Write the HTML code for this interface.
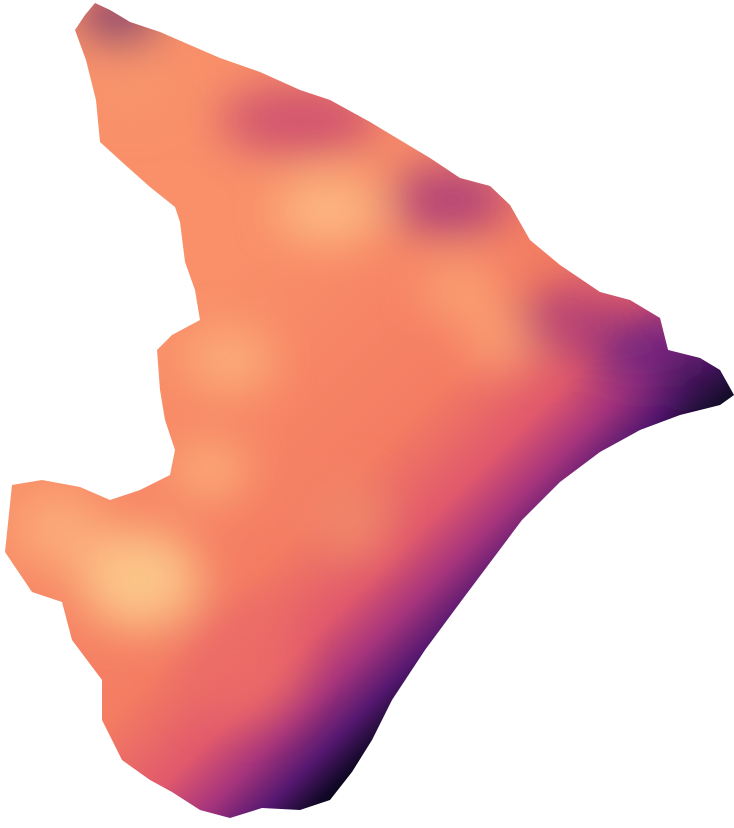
<!DOCTYPE html>
<html><head><meta charset="utf-8"><style>
html,body{margin:0;padding:0;background:#fff;width:734px;height:828px;overflow:hidden}
</style></head><body>
<svg width="734" height="828" viewBox="0 0 734 828">
<defs>
<clipPath id="region">
<polygon points="95,3 110,10 130,22 160,32 190,45 220,58 260,72 300,90 330,100 370,122 400,140 430,158 460,178 490,186 510,205 530,240 560,265 600,292 630,300 660,318 668,350 700,358 720,370 734,395 720,405 680,415 640,430 600,452 560,482 522,520 492,560 462,600 425,650 392,700 372,740 352,772 330,800 300,810 262,808 230,818 200,810 172,792 150,780 122,760 102,720 102,680 72,640 62,602 32,592 5,552 12,485 42,480 80,487 110,500 140,490 170,475 175,450 165,420 160,390 157,350 172,335 200,320 195,290 185,262 180,222 175,207 150,187 122,162 100,142 96,100 86,60 75,30 85,15"/>
</clipPath>
<linearGradient id="coast" gradientUnits="userSpaceOnUse" x1="250" y1="250" x2="580" y2="580">
<stop offset="0" stop-color="#f9906a"/>
<stop offset="0.5" stop-color="#f47c62"/>
<stop offset="0.68" stop-color="#e0596c"/>
<stop offset="0.78" stop-color="#a8357c"/>
<stop offset="0.87" stop-color="#551870"/>
<stop offset="0.94" stop-color="#120828"/>
<stop offset="1" stop-color="#000004"/>
</linearGradient>
<filter id="blur"><feGaussianBlur stdDeviation="22"/></filter>
</defs>
<g clip-path="url(#region)">
<rect width="734" height="828" fill="url(#coast)"/>
<g filter="url(#blur)" opacity="0.85">
<ellipse cx="140" cy="580" rx="60" ry="50" fill="#fdd08e"/>
<ellipse cx="60" cy="530" rx="45" ry="40" fill="#fcb07c"/>
<ellipse cx="330" cy="210" rx="55" ry="35" fill="#fdbd84"/>
<ellipse cx="230" cy="360" rx="45" ry="35" fill="#fcb07c"/>
<ellipse cx="460" cy="290" rx="40" ry="30" fill="#fba576"/>
<ellipse cx="500" cy="340" rx="35" ry="30" fill="#fba576"/>
<ellipse cx="210" cy="470" rx="40" ry="30" fill="#fcb07c"/>
<ellipse cx="130" cy="80" rx="45" ry="40" fill="#f8956d"/>
<ellipse cx="570" cy="320" rx="50" ry="35" fill="#b03d76"/>
<ellipse cx="450" cy="200" rx="60" ry="35" fill="#a8397a"/>
<ellipse cx="300" cy="120" rx="80" ry="35" fill="#c84a70"/>
<ellipse cx="120" cy="20" rx="40" ry="25" fill="#5a1a6e"/>
<ellipse cx="650" cy="350" rx="60" ry="35" fill="#6a2080"/>
<ellipse cx="705" cy="385" rx="40" ry="25" fill="#1a0a35"/>
<ellipse cx="240" cy="660" rx="60" ry="60" fill="#ec6c68"/>
<ellipse cx="350" cy="520" rx="40" ry="40" fill="#f08a6a"/>
</g>
</g>
</svg>
</body></html>
